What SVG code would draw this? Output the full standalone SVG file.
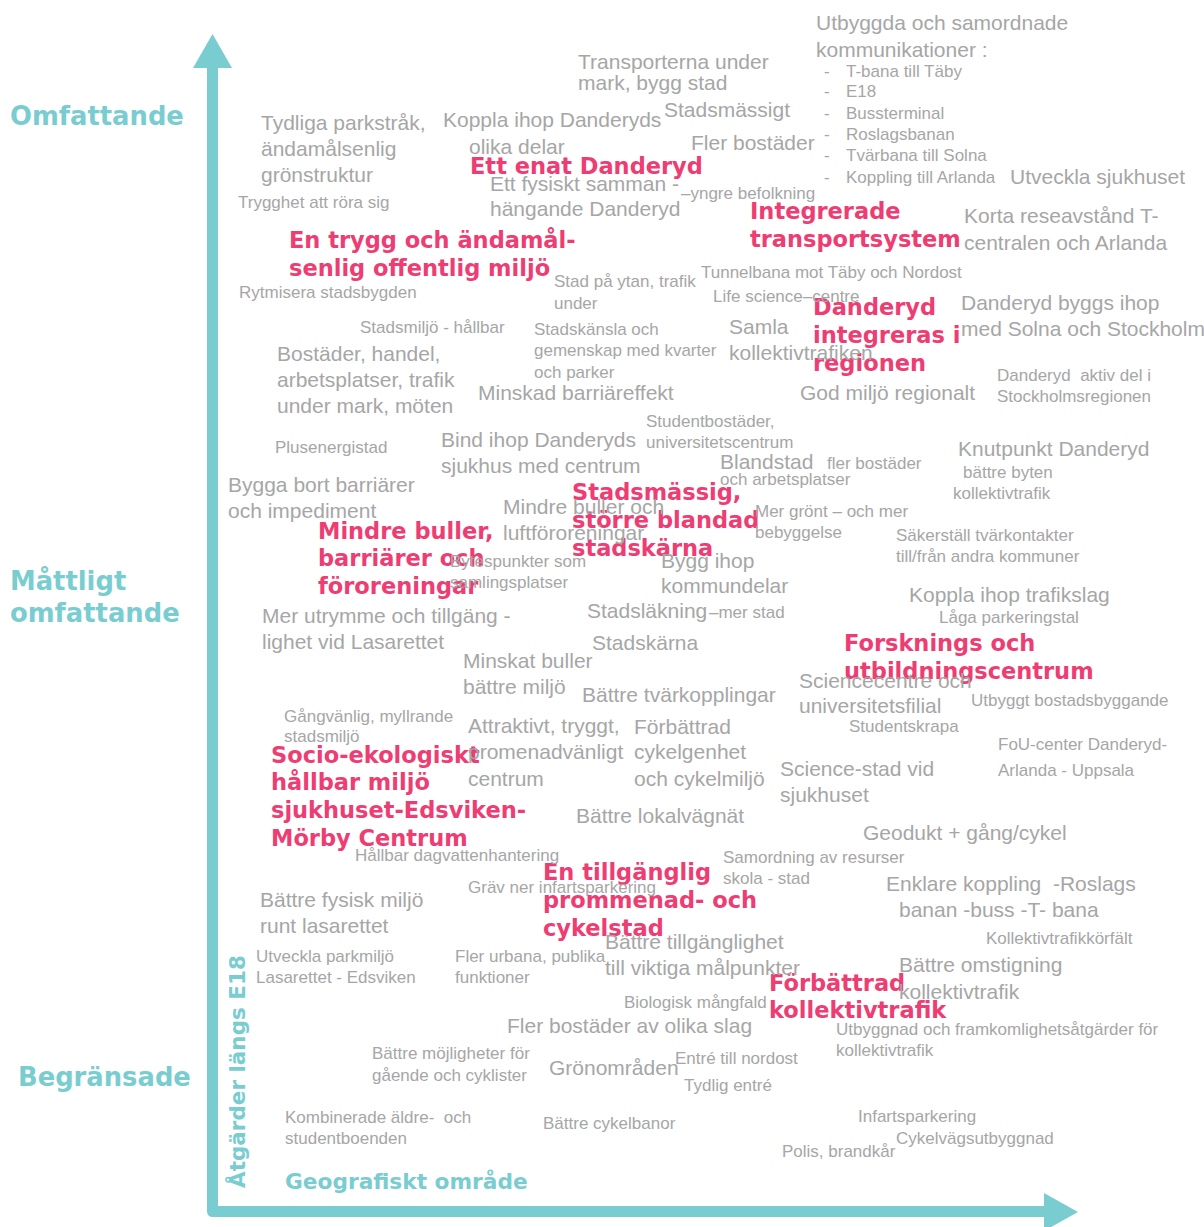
<svg xmlns="http://www.w3.org/2000/svg" width="1204" height="1227" viewBox="0 0 1204 1227">
<style>
text{font-family:"Liberation Sans",Arial,sans-serif;}
.g{font-size:21px;fill:#A6A6A6;}
.s{font-size:17px;fill:#A6A6A6;}
.pre{white-space:pre;}
.p{font-family:"DejaVu Sans",Verdana,sans-serif;font-weight:bold;font-size:22.5px;fill:#EE3D72;}
.t{font-family:"DejaVu Sans",Verdana,sans-serif;font-weight:bold;fill:#79CDD0;}
.ax{fill:none;stroke:#79CDD0;stroke-width:11;stroke-linejoin:round;}
.ah{fill:#79CDD0;}
</style>
<rect width="1204" height="1227" fill="#FFFFFF"/>
<g id="connectors">
<path class="ax" d="M212.5,62 V1211.5 H1050"/>
<polygon class="ah" points="212.5,34 193,68 232,68"/>
<polygon class="ah" points="1078,1212 1044,1193 1044,1231"/>
</g>
<g id="axis-labels">
<text class="t" x="10" y="125" font-size="25.8">Omfattande</text>
<text class="t" x="10" y="590" font-size="25.8">Måttligt</text>
<text class="t" x="10" y="622" font-size="25.8">omfattande</text>
<text class="t" x="18" y="1086" font-size="25.8">Begränsade</text>
<text class="t" font-size="21.5" transform="translate(245,1188) rotate(-90)">Åtgärder längs E18</text>
<text class="t" x="285" y="1189" font-size="21.7">Geografiskt område</text>
</g>
<g id="titles">
<text class="p" x="470" y="174">Ett enat Danderyd</text>
<text class="p"><tspan x="750" y="219">Integrerade</tspan><tspan x="750" y="247">transportsystem</tspan></text>
<text class="p"><tspan x="289" y="248">En trygg och ändamål-</tspan><tspan x="289" y="276">senlig offentlig miljö</tspan></text>
<text class="p"><tspan x="813" y="315">Danderyd</tspan><tspan x="813" y="343">integreras i</tspan><tspan x="813" y="371">regionen</tspan></text>
<text class="p"><tspan x="572" y="500">Stadsmässig,</tspan><tspan x="572" y="528">större blandad</tspan><tspan x="572" y="556">stadskärna</tspan></text>
<text class="p"><tspan x="318" y="539">Mindre buller,</tspan><tspan x="318" y="566">barriärer och</tspan><tspan x="318" y="594">föroreningar</tspan></text>
<text class="p"><tspan x="844" y="651">Forsknings och</tspan><tspan x="844" y="679">utbildningscentrum</tspan></text>
<text class="p"><tspan x="271" y="763">Socio-ekologiskt</tspan><tspan x="271" y="790">hållbar miljö</tspan><tspan x="271" y="818">sjukhuset-Edsviken-</tspan><tspan x="271" y="846">Mörby Centrum</tspan></text>
<text class="p"><tspan x="543" y="880">En tillgänglig</tspan><tspan x="543" y="908">prommenad- och</tspan><tspan x="543" y="936">cykelstad</tspan></text>
<text class="p"><tspan x="769" y="991">Förbättrad</tspan><tspan x="769" y="1018">kollektivtrafik</tspan></text>
</g>
<g id="n-kommunikationer">
<text class="g"><tspan x="816" y="30">Utbyggda och samordnade</tspan><tspan x="816" y="57">kommunikationer :</tspan></text>
<text class="s"><tspan x="824" y="77">-</tspan><tspan x="824" y="97">-</tspan><tspan x="824" y="119">-</tspan><tspan x="824" y="140">-</tspan><tspan x="824" y="161">-</tspan><tspan x="824" y="183">-</tspan></text>
<text class="s"><tspan x="846" y="77">T-bana till Täby</tspan><tspan x="846" y="97">E18</tspan><tspan x="846" y="119">Bussterminal</tspan><tspan x="846" y="140">Roslagsbanan</tspan><tspan x="846" y="161">Tvärbana till Solna</tspan><tspan x="846" y="183">Koppling till Arlanda</tspan></text>
</g>
<g id="n-right">
<text class="g" x="1010" y="184">Utveckla sjukhuset</text>
<text class="g"><tspan x="964" y="223">Korta reseavstånd T-</tspan><tspan x="964" y="250">centralen och Arlanda</tspan></text>
<text class="g"><tspan x="961" y="310">Danderyd byggs ihop</tspan><tspan x="961" y="336">med Solna och Stockholm</tspan></text>
<text class="s pre"><tspan x="997" y="381">Danderyd  aktiv del i</tspan><tspan x="997" y="402">Stockholmsregionen</tspan></text>
<text class="g" x="958" y="456">Knutpunkt Danderyd</text>
<text class="s"><tspan x="963" y="478">bättre byten</tspan><tspan x="953" y="499">kollektivtrafik</tspan></text>
<text class="s"><tspan x="896" y="541">Säkerställ tvärkontakter</tspan><tspan x="896" y="562">till/från andra kommuner</tspan></text>
<text class="g" x="909" y="602">Koppla ihop trafikslag</text>
<text class="s" x="939" y="623">Låga parkeringstal</text>
<text class="s" x="971" y="706">Utbyggt bostadsbyggande</text>
<text class="s"><tspan x="998" y="750">FoU-center Danderyd-</tspan><tspan x="998" y="776">Arlanda - Uppsala</tspan></text>
<text class="g" x="863" y="840">Geodukt + gång/cykel</text>
<text class="g pre"><tspan x="886" y="891">Enklare koppling  -Roslags</tspan><tspan x="899" y="917">banan -buss -T- bana</tspan></text>
<text class="s" x="986" y="944">Kollektivtrafikkörfält</text>
<text class="g"><tspan x="899" y="972">Bättre omstigning</tspan><tspan x="899" y="999">kollektivtrafik</tspan></text>
<text class="s"><tspan x="836" y="1035">Utbyggnad och framkomlighetsåtgärder för</tspan><tspan x="836" y="1056">kollektivtrafik</tspan></text>
<text class="s" x="858" y="1122">Infartsparkering</text>
<text class="s" x="896" y="1144">Cykelvägsutbyggnad</text>
<text class="s" x="782" y="1157">Polis, brandkår</text>
</g>
<g id="n-top">
<text class="g"><tspan x="578" y="69">Transporterna under</tspan><tspan x="578" y="90">mark, bygg stad</tspan></text>
<text class="g" x="664" y="117">Stadsmässigt</text>
<text class="g" x="691" y="150">Fler bostäder</text>
<text class="g"><tspan x="443" y="127">Koppla ihop Danderyds</tspan><tspan x="469" y="154">olika delar</tspan></text>
<text class="g"><tspan x="261" y="130">Tydliga parkstråk,</tspan><tspan x="261" y="156">ändamålsenlig</tspan><tspan x="261" y="182">grönstruktur</tspan></text>
<text class="s" x="238" y="208">Trygghet att röra sig</text>
<text class="g"><tspan x="490" y="191">Ett fysiskt samman -</tspan><tspan x="490" y="216">hängande Danderyd</tspan></text>
<text class="s" x="681" y="199">–yngre befolkning</text>
<text class="s"><tspan x="554" y="287">Stad på ytan, trafik</tspan><tspan x="554" y="309">under</tspan></text>
<text class="s" x="701" y="278">Tunnelbana mot Täby och Nordost</text>
<text class="s" x="713" y="302">Life science–centre</text>
<text class="s" x="239" y="298">Rytmisera stadsbygden</text>
</g>
<g id="n-middle">
<text class="s" x="360" y="333">Stadsmiljö - hållbar</text>
<text class="s"><tspan x="534" y="335">Stadskänsla och</tspan><tspan x="534" y="356">gemenskap med kvarter</tspan><tspan x="534" y="378">och parker</tspan></text>
<text class="g"><tspan x="729" y="334">Samla</tspan><tspan x="729" y="360">kollektivtrafiken</tspan></text>
<text class="g"><tspan x="277" y="361">Bostäder, handel,</tspan><tspan x="277" y="387">arbetsplatser, trafik</tspan><tspan x="277" y="413">under mark, möten</tspan></text>
<text class="g" x="478" y="400">Minskad barriäreffekt</text>
<text class="g" x="800" y="400">God miljö regionalt</text>
<text class="s"><tspan x="646" y="427">Studentbostäder,</tspan><tspan x="646" y="448">universitetscentrum</tspan></text>
<text class="s" x="275" y="453">Plusenergistad</text>
<text class="g"><tspan x="441" y="447">Bind ihop Danderyds</tspan><tspan x="441" y="473">sjukhus med centrum</tspan></text>
<text class="g" x="720" y="469">Blandstad</text>
<text class="s" x="827" y="469">fler bostäder</text>
<text class="s" x="720" y="485">och arbetsplatser</text>
<text class="g"><tspan x="228" y="492">Bygga bort barriärer</tspan><tspan x="228" y="518">och impediment</tspan></text>
<text class="g"><tspan x="503" y="514">Mindre buller och</tspan><tspan x="503" y="540">luftföroreningar</tspan></text>
<text class="s"><tspan x="755" y="517">Mer grönt – och mer</tspan><tspan x="755" y="538">bebyggelse</tspan></text>
<text class="s"><tspan x="450" y="567">Bytespunkter som</tspan><tspan x="450" y="588">samlingsplatser</tspan></text>
<text class="g"><tspan x="661" y="568">Bygg ihop</tspan><tspan x="661" y="593">kommundelar</tspan></text>
<text class="g"><tspan x="262" y="623">Mer utrymme och tillgäng -</tspan><tspan x="262" y="649">lighet vid Lasarettet</tspan></text>
<text class="g" x="587" y="618">Stadsläkning</text>
<text class="s" x="709" y="618">–mer stad</text>
<text class="g" x="592" y="650">Stadskärna</text>
<text class="g"><tspan x="463" y="668">Minskat buller</tspan><tspan x="463" y="694">bättre miljö</tspan></text>
<text class="g" x="582" y="702">Bättre tvärkopplingar</text>
<text class="g"><tspan x="799" y="688">Sciencecentre och</tspan><tspan x="799" y="713">universitetsfilial</tspan></text>
<text class="s" x="849" y="732">Studentskrapa</text>
</g>
<g id="n-lower">
<text class="s"><tspan x="284" y="722">Gångvänlig, myllrande</tspan><tspan x="284" y="742">stadsmiljö</tspan></text>
<text class="g"><tspan x="468" y="733">Attraktivt, tryggt,</tspan><tspan x="468" y="759">promenadvänligt</tspan><tspan x="468" y="786">centrum</tspan></text>
<text class="g"><tspan x="634" y="734">Förbättrad</tspan><tspan x="634" y="759">cykelgenhet</tspan><tspan x="634" y="786">och cykelmiljö</tspan></text>
<text class="g"><tspan x="780" y="776">Science-stad vid</tspan><tspan x="780" y="802">sjukhuset</tspan></text>
<text class="g" x="576" y="823">Bättre lokalvägnät</text>
<text class="s" x="355" y="861">Hållbar dagvattenhantering</text>
<text class="s"><tspan x="723" y="863">Samordning av resurser</tspan><tspan x="723" y="884">skola - stad</tspan></text>
<text class="s" x="468" y="893">Gräv ner infartsparkering</text>
<text class="g"><tspan x="260" y="907">Bättre fysisk miljö</tspan><tspan x="260" y="933">runt lasarettet</tspan></text>
<text class="g"><tspan x="605" y="949">Bättre tillgänglighet</tspan><tspan x="605" y="975">till viktiga målpunkter</tspan></text>
<text class="s"><tspan x="256" y="962">Utveckla parkmiljö</tspan><tspan x="256" y="983">Lasarettet - Edsviken</tspan></text>
<text class="s"><tspan x="455" y="962">Fler urbana, publika</tspan><tspan x="455" y="983">funktioner</tspan></text>
<text class="s" x="624" y="1008">Biologisk mångfald</text>
<text class="g" x="507" y="1033">Fler bostäder av olika slag</text>
<text class="s"><tspan x="372" y="1059">Bättre möjligheter för</tspan><tspan x="372" y="1081">gående och cyklister</tspan></text>
<text class="g" x="549" y="1075">Grönområden</text>
<text class="s" x="675" y="1064">Entré till nordost</text>
<text class="s" x="684" y="1091">Tydlig entré</text>
<text class="s pre"><tspan x="285" y="1123">Kombinerade äldre-  och</tspan><tspan x="285" y="1144">studentboenden</tspan></text>
<text class="s" x="543" y="1129">Bättre cykelbanor</text>
</g>
</svg>
